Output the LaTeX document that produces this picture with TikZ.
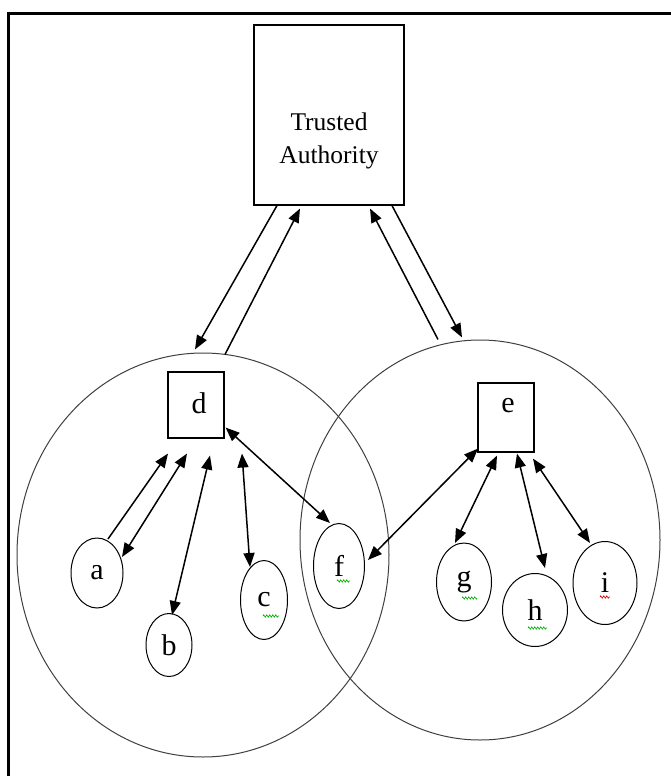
\documentclass[tikz,border=0pt]{standalone}
\usepackage{fontspec}
\setmainfont{Liberation Serif}
\usetikzlibrary{shapes.geometric,arrows.meta,calc,decorations.pathmorphing}
\begin{document}
\begin{tikzpicture}[x=1pt,y=-1pt,
 box/.style={draw, line width=1.1pt, inner sep=0pt},
 leaf/.style={draw, ellipse, line width=1pt, inner sep=0pt, font=\fontsize{30}{32}\selectfont},
 group/.style={draw=black!75, ellipse, line width=1pt, inner sep=0pt},
 conn/.style={line width=1.5pt, -{Triangle[length=14pt,width=11pt]}},
 both/.style={line width=1.5pt, {Triangle[length=14pt,width=11pt]}-{Triangle[length=14pt,width=11pt]}},
 lbl/.style={font=\fontsize{30}{32}\selectfont, inner sep=0pt},
 squig/.style={draw=green!70!black, line width=0.6pt, decorate, decoration={zigzag, segment length=3pt, amplitude=1.2pt}},
 rsquig/.style={squig, draw=red!85!black}]

\useasboundingbox (0,0) rectangle (671,776);
\fill[white] (0,0) rectangle (671,776);
\draw[line width=3pt] (8.5,776) -- (8.5,14) -- (671,14);

% groups
\node[group, minimum width=372pt, minimum height=404pt] (dgrp) at (203,555) {};
\node[group, minimum width=360pt, minimum height=400pt] (egrp) at (480,540) {};

% trusted authority
\node[box, minimum width=150pt, minimum height=180pt] (ta) at (329,115) {};
\node[font=\fontsize{25.5}{33}\selectfont, align=center, inner sep=0pt] (talbl) at (329,141) {Trusted\\Authority};

% cluster heads
\node[box, minimum width=56pt, minimum height=66pt] (d) at (196,405) {};
\node[lbl] (dl) at (199,403) {d};
\node[box, minimum width=56pt, minimum height=69pt] (e) at (506,417.5) {};
\node[lbl] (el) at (508,406) {e};

% members
\node[leaf, minimum width=52pt, minimum height=70pt] (a) at (97,573) {a};
\node[leaf, minimum width=46pt, minimum height=63pt] (b) at (169,645) {b};
\node[leaf, minimum width=47pt, minimum height=79pt] (c) at (264,600) {c};
\node[leaf, minimum width=51pt, minimum height=85pt] (f) at (339,566) {f};
\node[leaf, minimum width=55pt, minimum height=78pt] (g) at (464,582) {g};
\node[leaf, minimum width=65pt, minimum height=73pt] (h) at (535,610) {h};
\node[leaf, minimum width=64pt, minimum height=83pt] (i) at (605,583) {i};

% TA links
\draw[conn] ($(ta.south)+(-52,0)$) -- ($(d.north)+(-1,-22)$);
\draw[conn] ($(d.north)+(29,-17)$) -- ($(ta.south)+(-29,3)$);
\draw[conn] ($(e.north)+(-68,-43)$) -- ($(ta.south)+(41,3)$);
\draw[conn] ($(ta.south)+(63,0)$) -- ($(e.north)+(-44,-45)$);

% left cluster
\draw[conn] ($(a.center)+(11,-34)$) -- ($(d.south)+(-28,15)$);
\draw[both] ($(d.south)+(-9,15)$) -- ($(a.center)+(25,-16)$);
\draw[both] ($(d.south)+(14,17)$) -- ($(b.center)+(3,-30)$);
\draw[both] ($(d.south)+(46,15)$) -- ($(c.center)+(-14,-33)$);
\draw[both] ($(d.south east)+(1,-11)$) -- ($(f.center)+(-9,-43)$);

% right cluster
\draw[both] ($(f.center)+(29,-6)$) -- ($(e.south)+(-28,-4)$);
\draw[both] ($(e.south)+(-9,3)$) -- ($(g.center)+(-9,-39)$);
\draw[both] ($(e.south)+(11,1)$) -- ($(h.center)+(10,-42)$);
\draw[both] ($(e.south)+(27,6)$) -- ($(i.center)+(-15,-40)$);

% spell-check marks
\draw[squig] (263,616) -- (279,616);
\draw[squig] (337,581) -- (350,581);
\draw[squig] (462,598) -- (477,598);
\draw[squig] (528,628) -- (547,628);
\draw[rsquig] (600,597) -- (610,597);
\end{tikzpicture}
\end{document}
